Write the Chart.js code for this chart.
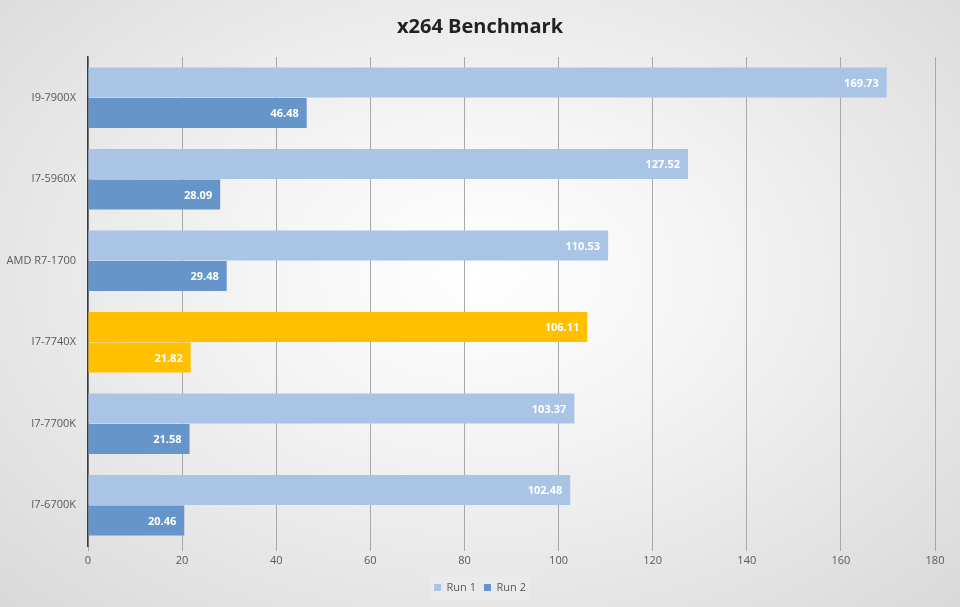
<!DOCTYPE html>
<html>
<head>
<meta charset="utf-8">
<script src="https://cdn.jsdelivr.net/npm/chart.js@4.4.0/dist/chart.umd.min.js"></script>
<style>
  html, body { margin: 0; padding: 0; }
  body { width: 960px; height: 607px; background: radial-gradient(ellipse at 50% 45%, #ffffff 0%, #f4f4f4 35%, #d9d9d9 100%); }
  #wrap { position: relative; width: 960px; height: 607px; }
</style>
</head>
<body>
<div id="wrap"><canvas id="c" width="960" height="607"></canvas></div>
<script>
const categories = ["I9-7900X", "I7-5960X", "AMD R7-1700", "I7-7740X", "I7-7700K", "I7-6700K"];
const run1 = [169.73, 127.52, 110.53, 106.11, 103.37, 102.48];
const run2 = [46.48, 28.09, 29.48, 21.82, 21.58, 20.46];
const seriesNames = ["Run 1", "Run 2"];
const xTicks = [0, 20, 40, 60, 80, 100, 120, 140, 160, 180];
const highlightCategory = "I7-7740X";

const C1 = "#a9c4e5";
const C2 = "#6696c9";
const HL = "#ffc000";

const colorsFor = (base) => categories.map(c => c === highlightCategory ? HL : base);

const FONT = "'Open Sans', 'Noto Sans', sans-serif";

const labelPlugin = {
  id: 'valueLabels',
  afterDatasetsDraw(chart) {
    const ctx = chart.ctx;
    ctx.save();
    ctx.fillStyle = '#ffffff';
    ctx.font = "bold 11px " + FONT;
    ctx.textAlign = 'right';
    ctx.textBaseline = 'middle';
    chart.data.datasets.forEach((ds, di) => {
      const meta = chart.getDatasetMeta(di);
      meta.data.forEach((bar, i) => {
        ctx.fillText(ds.data[i].toFixed(2), bar.x - 8, bar.y + 1);
      });
    });
    ctx.restore();
  }
};

const legendBg = {
  id: 'legendBg',
  beforeDraw(chart) {
    const l = chart.legend;
    if (!l) return;
    const ctx = chart.ctx;
    ctx.save();
    ctx.fillStyle = 'rgba(235,235,235,0.8)';
    const w = 100, h = 24;
    const cx = (l.left + l.right) / 2;
    const cy = (l.top + l.bottom) / 2;
    ctx.fillRect(cx - w / 2, cy - h / 2, w, h);
    ctx.restore();
  }
};

new Chart(document.getElementById('c'), {
  type: 'bar',
  data: {
    labels: categories,
    datasets: [
      { label: seriesNames[0], data: run1, backgroundColor: colorsFor(C1), borderWidth: 0 },
      { label: seriesNames[1], data: run2, backgroundColor: colorsFor(C2), borderWidth: 0 }
    ]
  },
  options: {
    indexAxis: 'y',
    responsive: false,
    animation: false,
    devicePixelRatio: 1,
    layout: { padding: { left: 0, right: 0, top: 0, bottom: 4 } },
    datasets: { bar: { categoryPercentage: 0.75, barPercentage: 0.98 } },
    scales: {
      x: {
        min: 0, max: 180,
        afterBuildTicks(scale) { scale.ticks = xTicks.map(v => ({ value: v })); },
        afterFit(scale) { scale.height = 28; },
        ticks: { color: '#595959', font: { family: FONT, size: 11 }, padding: 3 },
        grid: {
          color: '#a8a8a8', lineWidth: 1, tickLength: 5, drawTicks: true,
          tickColor: '#a8a8a8'
        },
        border: { display: false }
      },
      y: {
        afterFit(scale) { scale.width = 88; },
        ticks: { color: '#595959', font: { family: FONT, size: 11 }, padding: 12 },
        grid: { display: false, drawTicks: false },
        border: { display: true, color: '#3c3c3c', width: 1.5 }
      },
      yRight: {
        type: 'linear',
        position: 'right',
        afterFit(scale) { scale.width = 25; },
        ticks: { display: false },
        grid: { display: false, drawTicks: false },
        border: { display: false }
      }
    },
    plugins: {
      title: {
        display: true,
        text: 'x264 Benchmark',
        color: '#222222',
        font: { family: FONT, size: 20, weight: 'bold' },
        padding: { top: 15, bottom: 18 }
      },
      legend: {
        position: 'bottom',
        labels: {
          color: '#595959',
          font: { family: FONT, size: 11 },
          boxWidth: 7, boxHeight: 7,
          padding: 8,
          generateLabels(chart) {
            return chart.data.datasets.map((ds, i) => ({
              text: ds.label,
              fillStyle: i === 0 ? C1 : C2,
              strokeStyle: i === 0 ? C1 : C2,
              lineWidth: 0,
              datasetIndex: i,
              fontColor: '#595959'
            }));
          }
        }
      },
      tooltip: { enabled: false }
    }
  },
  plugins: [legendBg, labelPlugin]
});
</script>
</body>
</html>
